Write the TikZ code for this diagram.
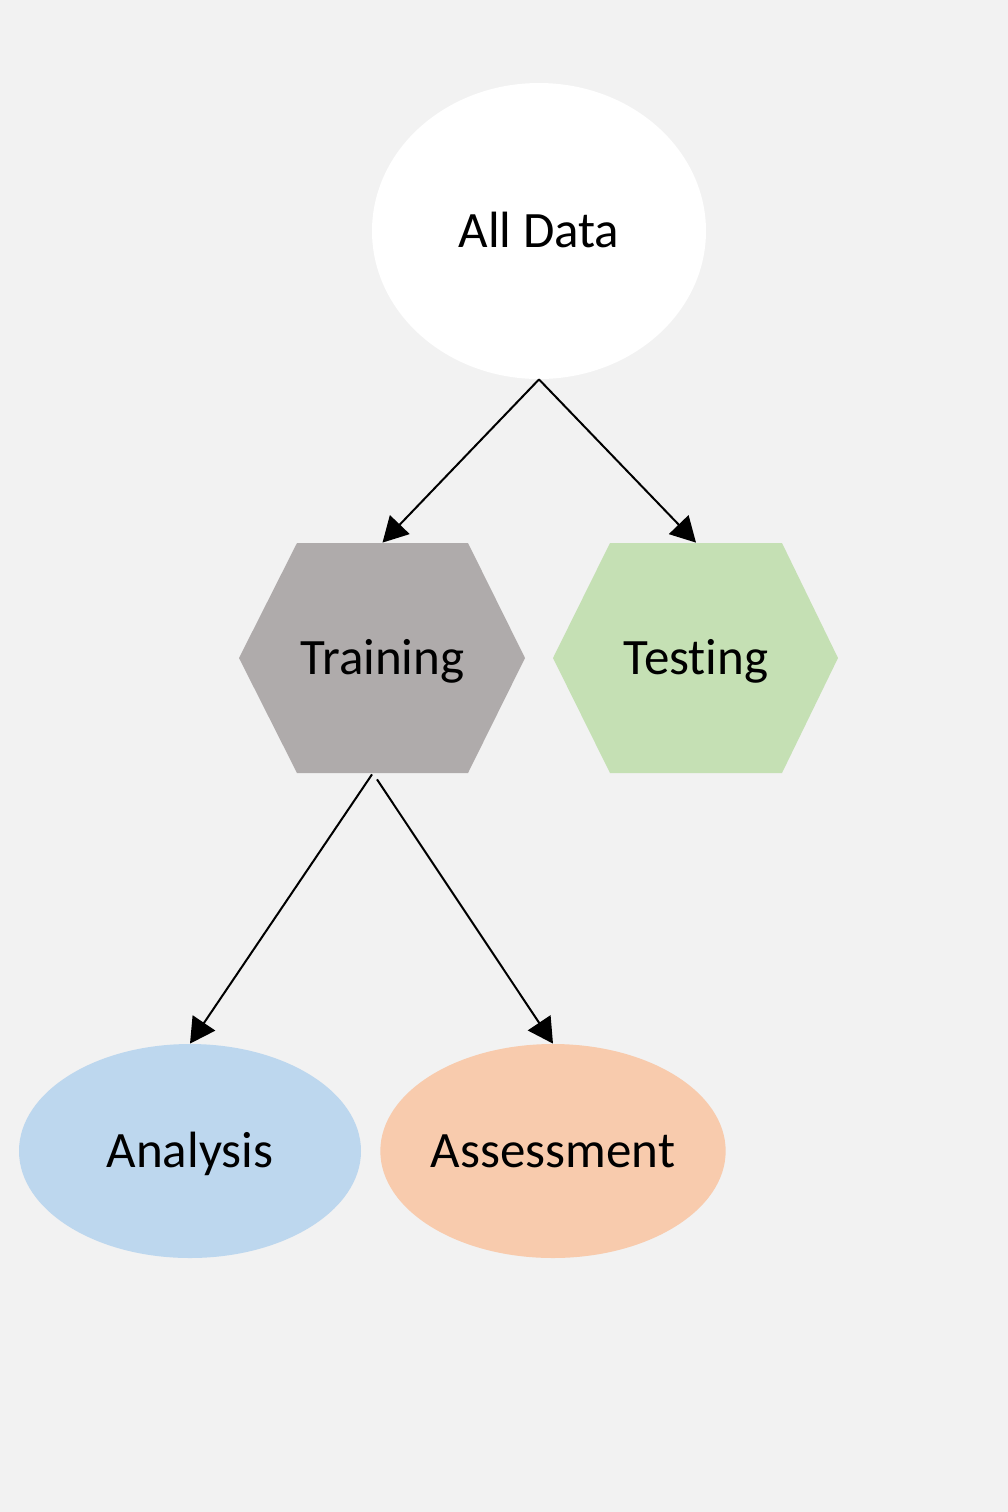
\documentclass[tikz,border=0pt]{standalone}
\usepackage{fontspec}
\setmainfont{Carlito}[Ligatures=NoCommon]
\usetikzlibrary{shapes.geometric,arrows.meta,calc}
\definecolor{bgc}{HTML}{F2F2F2}
\definecolor{traingray}{HTML}{AFABAB}
\definecolor{testgreen}{HTML}{C5E0B4}
\definecolor{anablue}{HTML}{BDD7EE}
\definecolor{assorange}{HTML}{F8CBAD}
\tikzset{
  txt/.style={font=\fontsize{25.5pt}{30pt}\selectfont, text=black, text height=16.1pt, text depth=0pt},
  ell/.style={txt, ellipse, draw=none, inner sep=0pt},
  hexbox/.style={txt, rectangle, draw=none, inner sep=0pt, minimum width=143pt, minimum height=115pt},
  conn/.style={draw=black, line width=1pt, -{Triangle[length=12.5pt,width=13.5pt]}}
}
\begin{document}
\begin{tikzpicture}[x=0.5pt,y=-0.5pt]
\fill[bgc] (0,0) rectangle (1008,1512);
\useasboundingbox (0,0) rectangle (1008,1512);
% All Data
\node[ell, fill=white, minimum width=167pt, minimum height=148pt] (alldata) at (539,231) {All Data};
% hexagons
\fill[traingray] (239,658) -- (297,543) -- (468,543) -- (525,658) -- (468,773) -- (297,773) -- cycle;
\node[hexbox] (train) at (382.5,658) {Training};
\fill[testgreen] (553,658) -- (610,543) -- (782,543) -- (838,658) -- (782,773) -- (610,773) -- cycle;
\node[hexbox] (test) at (696,658) {Testing};
% bottom ellipses
\node[ell, fill=anablue, minimum width=171pt, minimum height=107pt] (ana) at (190,1151) {Analysis};
\node[ell, fill=assorange, minimum width=171pt, minimum height=107pt] (ass) at (553,1151) {Assessment};
% connectors
\draw[conn] (alldata.south) -- (train.north);
\draw[conn] (alldata.south) -- (test.north);
\draw[conn] ($(train.south)+(-10.5,1)$) -- (ana.north);
\draw[conn] ($(train.south)+(-5.5,6)$) -- (ass.north);
\end{tikzpicture}
\end{document}
